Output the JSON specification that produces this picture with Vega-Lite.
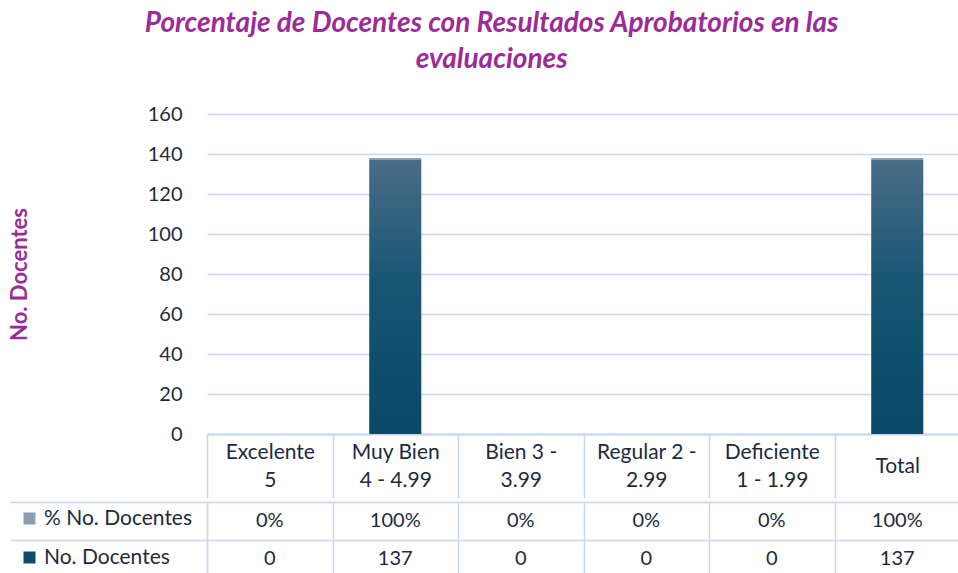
{
  "$schema": "https://vega.github.io/schema/vega-lite/v6.json",
  "padding": {"left": 8, "top": 10, "right": 0, "bottom": 0},
  "background": "white",
  "title": {
    "text": ["Porcentaje de Docentes con Resultados Aprobatorios en las", "evaluaciones"],
    "font": "Lato", "fontSize": 28, "fontStyle": "italic", "fontWeight": "bold",
    "color": "#9B2C97", "anchor": "middle", "lineHeight": 36, "offset": 30, "dx": -91
  },
  "data": {"values": [
    {"cat": "Excelente\n5", "serie": "% No. Docentes", "valor": 0},
    {"cat": "Excelente\n5", "serie": "No. Docentes", "valor": 0},
    {"cat": "Muy Bien\n4 - 4.99", "serie": "% No. Docentes", "valor": 1},
    {"cat": "Muy Bien\n4 - 4.99", "serie": "No. Docentes", "valor": 137},
    {"cat": "Bien 3 -\n3.99", "serie": "% No. Docentes", "valor": 0},
    {"cat": "Bien 3 -\n3.99", "serie": "No. Docentes", "valor": 0},
    {"cat": "Regular 2 -\n2.99", "serie": "% No. Docentes", "valor": 0},
    {"cat": "Regular 2 -\n2.99", "serie": "No. Docentes", "valor": 0},
    {"cat": "Deficiente\n1 - 1.99", "serie": "% No. Docentes", "valor": 0},
    {"cat": "Deficiente\n1 - 1.99", "serie": "No. Docentes", "valor": 0},
    {"cat": "Total", "serie": "% No. Docentes", "valor": 1},
    {"cat": "Total", "serie": "No. Docentes", "valor": 137}
  ]},
  "spacing": 0,
  "vconcat": [
    {
      "width": 753, "height": 320,
      "mark": {"type": "bar", "width": {"band": 0.415}},
      "encoding": {
        "x": {"field": "cat", "type": "nominal", "sort": null,
          "scale": {"paddingInner": 0, "paddingOuter": 0},
          "axis": {"title": null, "labelAngle": 0, "labelExpr": "split(datum.label, '\\n')",
            "labelFontSize": 21, "labelLineHeight": 28, "labelBaseline": "middle",
            "labelPadding": {"condition": {"test": "datum.value === 'Total'", "value": -32}, "value": -46},
            "labelColor": "#1B2B3D", "labelFont": "Lato",
            "ticks": true, "tickBand": "extent", "tickSize": 64, "tickColor": "#C8D8EE", "tickWidth": 1.5,
            "domain": true, "domainColor": "#C8D8EE", "domainWidth": 2, "grid": false}},
        "y": {"field": "valor", "type": "quantitative", "stack": "zero",
          "scale": {"domain": [0, 160], "nice": false},
          "axis": {"values": [0, 20, 40, 60, 80, 100, 120, 140, 160], "grid": true, "gridColor": "#C8D8EE", "gridWidth": 1.5,
            "domain": false, "ticks": false, "labelFontSize": 20, "labelColor": "#1B2B3D", "labelFont": "Lato", "labelPadding": 25,
            "title": "No. Docentes", "titleFontSize": 22, "titleFontWeight": "bold", "titleColor": "#9B2C97", "titleFont": "Lato", "titlePadding": 116}},
        "detail": {"field": "serie", "type": "nominal"},
        "color": {"condition": {"test": "datum.serie === 'No. Docentes'",
            "value": {"gradient": "linear", "x1": 0, "y1": 0, "x2": 0, "y2": 1,
              "stops": [{"offset": 0, "color": "#4A6D88"}, {"offset": 0.45, "color": "#175573"}, {"offset": 1, "color": "#094868"}]}},
          "value": "#8C9DAE"},
        "order": {"field": "serie", "sort": "descending"}
      }
    },
    {
      "width": 753, "height": 76,
      "encoding": {
        "x": {"field": "cat", "type": "nominal", "sort": null,
          "scale": {"paddingInner": 0, "paddingOuter": 0},
          "axis": {"title": null, "orient": "top", "labels": false, "ticks": false, "domain": false,
            "grid": true, "tickBand": "extent", "gridColor": "#C8D8EE", "gridWidth": 1.5}}
      },
      "layer": [
        {
          "mark": {"type": "rect", "opacity": 0},
          "encoding": {
            "y": {"field": "serie", "type": "nominal", "sort": ["% No. Docentes", "No. Docentes"],
              "scale": {"paddingInner": 0, "paddingOuter": 0},
              "axis": {"title": null, "labels": false, "ticks": true, "tickSize": 197, "tickBand": "extent",
                "tickColor": "#C8D8EE", "tickWidth": 1.5, "domain": true, "domainColor": "#C8D8EE", "domainWidth": 1.5,
                "grid": true, "gridColor": "#C8D8EE", "gridWidth": 1.5}},
            "color": {"field": "serie", "type": "nominal",
              "scale": {"domain": ["% No. Docentes", "No. Docentes"], "range": ["#8C9DAE", "#0F4D6D"]},
              "legend": {"orient": "none", "legendX": -197, "legendY": -3, "title": null,
                "symbolType": "square", "symbolSize": 144, "symbolOpacity": 1, "symbolStrokeWidth": 0,
                "labelFontSize": 21, "labelColor": "#1B2B3D", "labelFont": "Lato", "labelOffset": 4,
                "rowPadding": 17, "padding": 9}}
          }
        },
        {
          "mark": {"type": "text", "fontSize": 20, "color": "#1B2B3D", "font": "Lato"},
          "encoding": {
            "y": {"field": "serie", "type": "nominal", "sort": ["% No. Docentes", "No. Docentes"],
              "axis": {"title": null, "labels": false, "ticks": false, "grid": false, "offset": 197,
                "domain": true, "domainColor": "#C8D8EE", "domainWidth": 1.5}},
            "text": {"condition": {"test": "datum.serie === '% No. Docentes'", "field": "valor", "type": "quantitative", "format": ".0%"},
              "field": "valor", "type": "quantitative", "format": "d"}
          }
        }
      ],
      "resolve": {"axis": {"y": "independent"}}
    }
  ],
  "resolve": {"scale": {"x": "independent", "color": "independent"}, "legend": {"color": "independent"}, "axis": {"x": "independent"}},
  "config": {"view": {"stroke": null}, "font": "Lato"}
}
